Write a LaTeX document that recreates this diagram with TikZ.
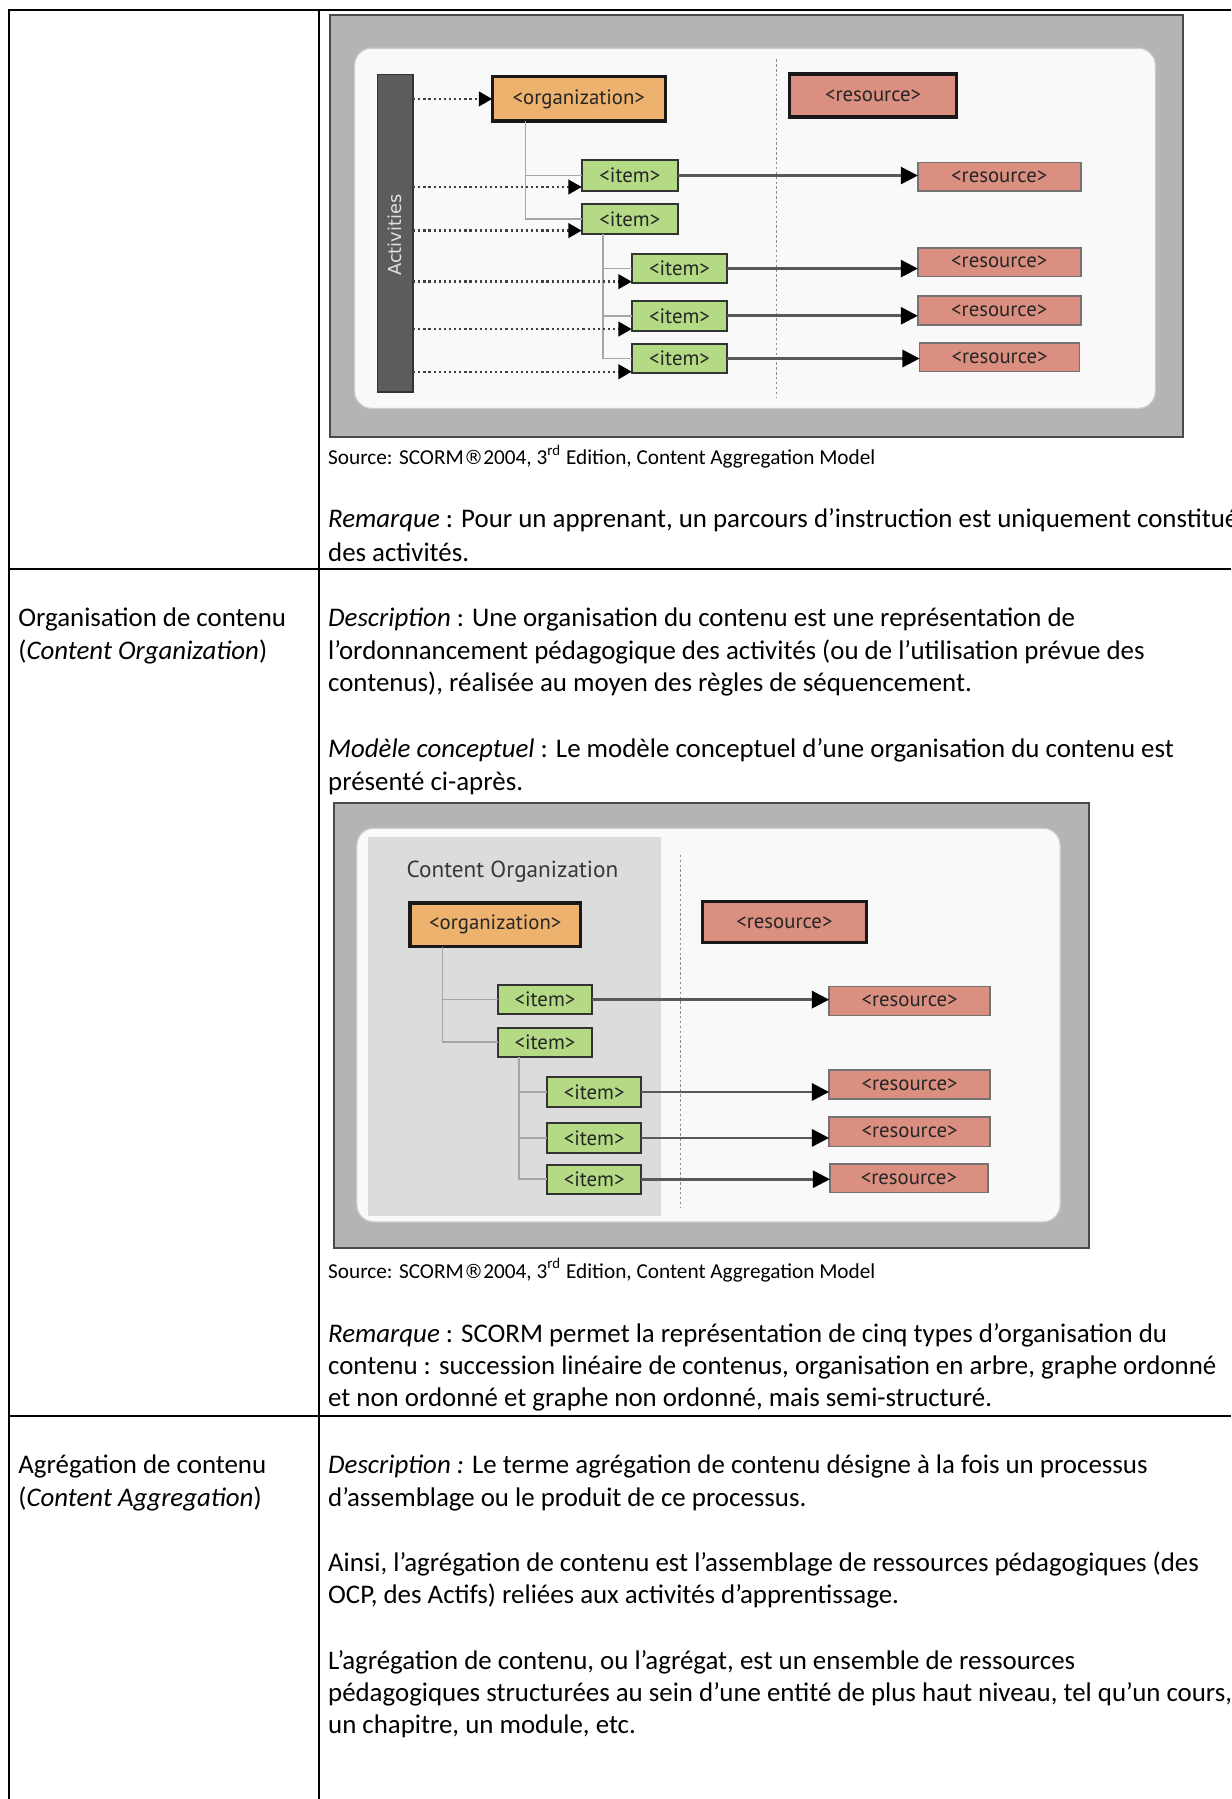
\documentclass[tikz,border=0pt]{standalone}
\usepackage{fontspec}
\setmainfont{Carlito}
\newfontfamily\lab{PT Sans}
\newfontfamily\dvs{DejaVu Sans}
\usetikzlibrary{arrows.meta,calc}
\definecolor{frameg}{HTML}{B4B4B4}
\definecolor{framed}{HTML}{4A4A4A}
\definecolor{innerw}{HTML}{F9F9F9}
\definecolor{panelg}{HTML}{DCDCDC}
\definecolor{orgc}{HTML}{EDB26E}
\definecolor{resc}{HTML}{DB8F80}
\definecolor{itemc}{HTML}{B4DA85}
\definecolor{actc}{HTML}{5C5C5C}
\newcommand\bx[7]{\node[#6,minimum width={(#4-#2)*0.4695pt},minimum height={(#5-#3)*0.4695pt}] (#1) at ({(#2+#4)/2},{(#3+#5)/2}) {#7};}
\newcommand\regmark{{\dvs\fontsize{8}{10}\selectfont ®}}
\begin{document}
\begin{tikzpicture}[x=0.4695pt,y=-0.4695pt,
  every node/.style={inner sep=0pt,outer sep=0pt},
  tbl/.style={draw=black,line width=0.9pt},
  frame/.style={draw=framed,line width=0.8pt,fill=frameg,rectangle},
  whitebox/.style={draw=black!20,line width=0.5pt,fill=innerw,rounded corners=7pt,rectangle},
  panel/.style={draw=black!15,line width=0.5pt,fill=panelg,rectangle},
  actbar/.style={draw=black!80,line width=0.7pt,fill=actc,rectangle},
  lbl/.style={font=\lab\fontsize{8.5}{10}\selectfont,text=black!85},
  orgbox/.style={lbl,rectangle,draw=black!90,line width=1.3pt,fill=orgc},
  resbig/.style={lbl,rectangle,draw=black!90,line width=1.3pt,fill=resc},
  itembox/.style={lbl,rectangle,draw=black!80,line width=0.8pt,fill=itemc},
  resbox/.style={lbl,rectangle,draw=black!55,line width=0.6pt,fill=resc},
  link/.style={draw=black!65,line width=1.1pt,-{Triangle[length=7pt,width=7pt,color=black]}},
  dotarr/.style={draw=black!75,line width=1pt,dash pattern=on 0.9pt off 1.2pt,-{Triangle[length=5.5pt,width=6pt,color=black]}},
  tree/.style={draw=black!35,line width=0.7pt},
  vsep/.style={draw=black!45,line width=0.4pt,dash pattern=on 1pt off 1pt},
  body/.style={anchor=base west,font=\fontsize{11}{13.4}\selectfont},
  src/.style={anchor=base west,font=\fontsize{8.7}{11}\selectfont}]
\useasboundingbox (0,0) rectangle (1073,1568);
\fill[white] (0,0) rectangle (1073,1568);
% table
\draw[tbl] (7.8,1568) -- (7.8,8.7) -- (1073,8.7);
\draw[tbl] (278,8.7) -- (278,1568);
\draw[tbl] (7.8,496) -- (1073,496);
\draw[tbl] (7.8,1234) -- (1073,1234);

% ===== picture 1 =====
\bx{frameA}{288}{13}{1031}{381}{frame}{}
\bx{whiteA}{309}{42}{1007}{356}{whitebox}{}
\draw[vsep] (677,51.7) -- (677,347);
\bx{act}{329}{65}{360}{341.6}{actbar}{}
\node[rotate=90,font=\dvs\fontsize{7.3}{9}\selectfont,text=black!12] (actlbl) at (344.5,205) {Activities};
\bx{orgA}{429}{67}{580}{105.5}{orgbox}{<organization>}
\bx{resTA}{688}{64.5}{834}{102}{resbig}{<resource>}
\bx{iA1}{507}{139.5}{591}{166.5}{itembox}{<item>}
\bx{iA2}{507}{178}{591}{204}{itembox}{<item>}
\bx{iA3}{550.6}{221.4}{634}{246.8}{itembox}{<item>}
\bx{iA4}{550.6}{262}{634}{288.5}{itembox}{<item>}
\bx{iA5}{550.6}{300}{634}{325}{itembox}{<item>}
\bx{rA1}{800}{141.5}{942}{166.5}{resbox}{<resource>}
\bx{rA3}{800}{216}{942}{241}{resbox}{<resource>}
\bx{rA4}{800}{258}{942}{283.3}{resbox}{<resource>}
\bx{rA5}{801.5}{299}{941}{324}{resbox}{<resource>}
% tree
\coordinate (tA1) at ($(orgA.south west)+(29,0)$);
\coordinate (tA2) at ($(iA2.south west)+(18.6,0)$);
\draw[tree] (tA1) |- (iA1.west);
\draw[tree] (tA1) |- (iA2.west);
\draw[tree] (tA2) |- (iA3.west);
\draw[tree] (tA2) |- (iA4.west);
\draw[tree] (tA2) |- (iA5.west);
% links
\draw[link] (iA1.east) -- (iA1.east -| rA1.west);
\draw[link] (iA3.east) -- (iA3.east -| rA3.west);
\draw[link] (iA4.east) -- (iA4.east -| rA4.west);
\draw[link] (iA5.east) -- (iA5.east -| rA5.west);
% dotted activity arrows
\coordinate (dA1) at (0,163);
\coordinate (dA2) at (0,201);
\coordinate (dA3) at (0,245.5);
\coordinate (dA4) at (0,286.8);
\coordinate (dA5) at (0,324);
\draw[dotarr] (act.east |- orgA.west) -- (orgA.west);
\draw[dotarr] (act.east |- dA1) -- (dA1 -| iA1.west);
\draw[dotarr] (act.east |- dA2) -- (dA2 -| iA2.west);
\draw[dotarr] (act.east |- dA3) -- (dA3 -| iA3.west);
\draw[dotarr] (act.east |- dA4) -- (dA4 -| iA4.west);
\draw[dotarr] (act.east |- dA5) -- (dA5 -| iA5.west);

% texts row 1
\node[src] (srcA) at (286,405) {Source: SCORM\regmark2004, 3\textsuperscript{rd} Edition, Content Aggregation Model};
\node[body] (remA1) at (286,460) {\textit{Remarque} : Pour un apprenant, un parcours d’instruction est uniquement constitué};
\node[body] (remA2) at (286,489) {des activités.};

% row 2 texts
\node[body] (orgL1) at (16,546) {Organisation de contenu};
\node[body] (orgL2) at (16,575) {(\textit{Content Organization})};
\node[body] (desB1) at (286,546) {\textit{Description} : Une organisation du contenu est une représentation de};
\node[body] (desB2) at (286,575) {l’ordonnancement pédagogique des activités (ou de l’utilisation prévue des};
\node[body] (desB3) at (286,603) {contenus), réalisée au moyen des règles de séquencement.};
\node[body] (modB1) at (286,660) {\textit{Modèle conceptuel} : Le modèle conceptuel d’une organisation du contenu est};
\node[body] (modB2) at (286,689) {présenté ci-après.};

% ===== picture 2 =====
\bx{frameB}{291}{700}{949.4}{1087.5}{frame}{}
\bx{whiteB}{311}{721.8}{924}{1065}{whitebox}{}
\bx{panelB}{321}{729.7}{576}{1059.6}{panel}{}
\node[anchor=base west,font=\lab\fontsize{9.5}{11}\selectfont,text=black!78] (coB) at (354.5,765) {Content Organization};
\draw[vsep] (592.7,745) -- (592.7,1053);
\bx{orgB}{357.4}{787}{506}{825}{orgbox}{<organization>}
\bx{resTB}{612}{786}{755.4}{821.7}{resbig}{<resource>}
\bx{iB1}{434}{858.5}{516}{884}{itembox}{<item>}
\bx{iB2}{434}{895.7}{516}{921.3}{itembox}{<item>}
\bx{iB3}{476.7}{939}{559}{964.5}{itembox}{<item>}
\bx{iB4}{476.7}{979}{559}{1004.6}{itembox}{<item>}
\bx{iB5}{476.7}{1015}{559}{1040.6}{itembox}{<item>}
\bx{rB1}{722.6}{860}{863}{885}{resbox}{<resource>}
\bx{rB3}{722.6}{932.6}{863}{958}{resbox}{<resource>}
\bx{rB4}{722.6}{973.6}{863}{999.4}{resbox}{<resource>}
\bx{rB5}{723.4}{1014.6}{861}{1039.5}{resbox}{<resource>}
\coordinate (tB1) at ($(orgB.south west)+(28.4,0)$);
\coordinate (tB2) at ($(iB2.south west)+(18.4,0)$);
\draw[tree] (tB1) |- (iB1.west);
\draw[tree] (tB1) |- (iB2.west);
\draw[tree] (tB2) |- (iB3.west);
\draw[tree] (tB2) |- (iB4.west);
\draw[tree] (tB2) |- (iB5.west);
\draw[link] (iB1.east) -- (iB1.east -| rB1.west);
\draw[link] (iB3.east) -- (iB3.east -| rB3.west);
\draw[link] (iB4.east) -- (iB4.east -| rB4.west);
\draw[link] (iB5.east) -- (iB5.east -| rB5.west);

\node[src] (srcB) at (286,1114) {Source: SCORM\regmark2004, 3\textsuperscript{rd} Edition, Content Aggregation Model};
\node[body] (remB1) at (286,1170) {\textit{Remarque} : SCORM permet la représentation de cinq types d’organisation du};
\node[body] (remB2) at (286,1198) {contenu : succession linéaire de contenus, organisation en arbre, graphe ordonné};
\node[body] (remB3) at (286,1226) {et non ordonné et graphe non ordonné, mais semi-structuré.};

% row 3
\node[body] (agL1) at (16,1284) {Agrégation de contenu};
\node[body] (agL2) at (16,1313) {(\textit{Content Aggregation})};
\node[body] (agD1) at (286,1284) {\textit{Description :} Le terme agrégation de contenu désigne à la fois un processus};
\node[body] (agD2) at (286,1313) {d’assemblage ou le produit de ce processus.};
\node[body] (agA1) at (286,1370) {Ainsi, l’agrégation de contenu est l’assemblage de ressources pédagogiques (des};
\node[body] (agA2) at (286,1398) {OCP, des Actifs) reliées aux activités d’apprentissage.};
\node[body] (agL3) at (286,1455) {L’agrégation de contenu, ou l’agrégat, est un ensemble de ressources};
\node[body] (agL4) at (286,1483) {pédagogiques structurées au sein d’une entité de plus haut niveau, tel qu’un cours,};
\node[body] (agL5) at (286,1511) {un chapitre, un module, etc.};
\end{tikzpicture}
\end{document}
